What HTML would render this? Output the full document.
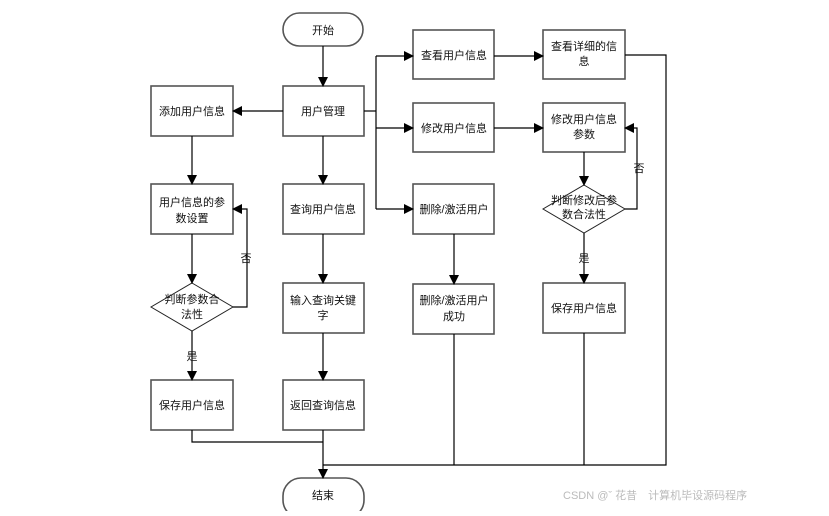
<!DOCTYPE html>
<html><head><meta charset="utf-8"><style>
body{margin:0;background:#fff;width:829px;height:511px;overflow:hidden}
svg text{font-family:"Liberation Sans","Noto Sans CJK SC",sans-serif;font-size:11px;fill:#111}
</style></head><body>
<svg width="829" height="511" viewBox="0 0 829 511">
<defs><marker id="a" markerWidth="10" markerHeight="10" refX="9" refY="5" orient="auto" markerUnits="userSpaceOnUse"><path d="M0,0 L10,5 L0,10 z" fill="#000"/></marker></defs>
<g fill="#fff" stroke="#555" stroke-width="1.6">
<rect x="283" y="13" width="80" height="33" rx="16.5"/>
<rect x="283" y="86" width="81" height="50"/>
<rect x="151" y="86" width="82" height="50"/>
<rect x="151" y="184" width="82" height="50"/>
<rect x="283" y="184" width="81" height="50"/>
<polygon points="192,283 233,307 192,331 151,307" stroke="#222" stroke-width="1"/>
<rect x="151" y="380" width="82" height="50"/>
<rect x="283" y="283" width="81" height="50"/>
<rect x="283" y="380" width="81" height="50"/>
<rect x="283" y="478" width="81" height="40" rx="18"/>
<rect x="413" y="30" width="81" height="49"/>
<rect x="413" y="103" width="81" height="49"/>
<rect x="413" y="184" width="81" height="50"/>
<rect x="413" y="284" width="81" height="50"/>
<rect x="543" y="30" width="82" height="49"/>
<rect x="543" y="103" width="82" height="49"/>
<polygon points="584,185 625,209 584,233 543,209" stroke="#222" stroke-width="1"/>
<rect x="543" y="283" width="82" height="50"/>
</g>
<g stroke="#000" stroke-width="1.2" fill="none">
<line x1="323" y1="46" x2="323" y2="86" marker-end="url(#a)"/>
<line x1="283" y1="111" x2="233" y2="111" marker-end="url(#a)"/>
<line x1="192" y1="136" x2="192" y2="184" marker-end="url(#a)"/>
<line x1="323" y1="136" x2="323" y2="184" marker-end="url(#a)"/>
<line x1="192" y1="234" x2="192" y2="283" marker-end="url(#a)"/>
<line x1="323" y1="234" x2="323" y2="283" marker-end="url(#a)"/>
<line x1="192" y1="331" x2="192" y2="380" marker-end="url(#a)"/>
<line x1="323" y1="333" x2="323" y2="380" marker-end="url(#a)"/>
<polyline points="233,307 247,307 247,209 233,209" marker-end="url(#a)"/>
<polyline points="364,111 376,111"/>
<polyline points="376,56 376,209"/>
<line x1="376" y1="56" x2="413" y2="56" marker-end="url(#a)"/>
<line x1="376" y1="128" x2="413" y2="128" marker-end="url(#a)"/>
<line x1="376" y1="209" x2="413" y2="209" marker-end="url(#a)"/>
<line x1="494" y1="56" x2="543" y2="56" marker-end="url(#a)"/>
<line x1="494" y1="128" x2="543" y2="128" marker-end="url(#a)"/>
<line x1="454" y1="234" x2="454" y2="284" marker-end="url(#a)"/>
<line x1="584" y1="152" x2="584" y2="185" marker-end="url(#a)"/>
<line x1="584" y1="233" x2="584" y2="283" marker-end="url(#a)"/>
<polyline points="625,209 637,209 637,128 625,128" marker-end="url(#a)"/>
<polyline points="625,55 666,55 666,465 323,465"/>
<line x1="454" y1="334" x2="454" y2="465"/>
<line x1="584" y1="333" x2="584" y2="465"/>
<polyline points="192,430 192,442 323,442"/>
<line x1="323" y1="430" x2="323" y2="478" marker-end="url(#a)"/>
</g>
<g text-anchor="middle">
<text x="323" y="34">开始</text>
<text x="323" y="115">用户管理</text>
<text x="192" y="115">添加用户信息</text>
<text x="192" y="206">用户信息的参</text><text x="192" y="222">数设置</text>
<text x="323" y="213">查询用户信息</text>
<text x="192" y="303" font-size="10.5">判断参数合</text><text x="192" y="318">法性</text>
<text x="192" y="409">保存用户信息</text>
<text x="323" y="304">输入查询关键</text><text x="323" y="319">字</text>
<text x="323" y="409">返回查询信息</text>
<text x="323" y="499">结束</text>
<text x="454" y="59">查看用户信息</text>
<text x="454" y="132">修改用户信息</text>
<text x="454" y="213">删除/激活用户</text>
<text x="454" y="304">删除/激活用户</text><text x="454" y="320">成功</text>
<text x="584" y="50">查看详细的信</text><text x="584" y="65">息</text>
<text x="584" y="123">修改用户信息</text><text x="584" y="138">参数</text>
<text x="584" y="204" font-size="10">判断修改后参</text><text x="584" y="218" font-size="10">数合法性</text>
<text x="584" y="312">保存用户信息</text>
<text x="246" y="262" font-size="10">否</text>
<text x="639" y="172" font-size="10">否</text>
<text x="192" y="360" font-size="10">是</text>
<text x="584" y="262" font-size="10">是</text>
</g>
<text x="563" y="499" font-size="13" style="fill:#bbb">CSDN @ˇ 花昔　计算机毕设源码程序</text>
</svg>
</body></html>
